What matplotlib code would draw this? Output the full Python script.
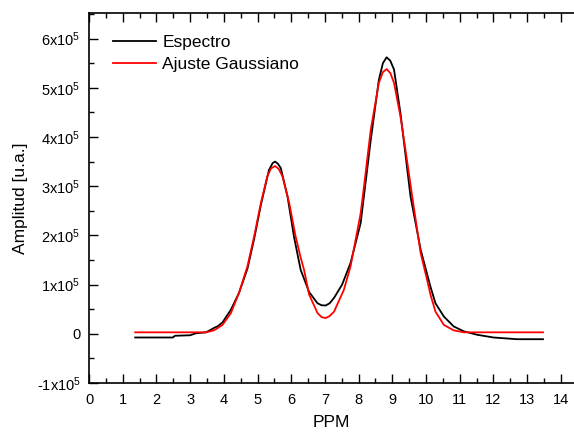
import matplotlib
matplotlib.use("Agg")
import matplotlib.pyplot as plt
from matplotlib.ticker import MultipleLocator, FixedLocator, FixedFormatter

plt.rcParams['font.family'] = ['Liberation Sans', 'DejaVu Sans']
plt.rcParams['mathtext.fontset'] = 'custom'
plt.rcParams['mathtext.rm'] = 'Liberation Sans'
plt.rcParams['mathtext.it'] = 'Liberation Sans'

# Spectrum (black)
spec_x = [1.37, 2.49, 2.55, 3.0, 3.17, 3.47, 3.61, 3.71, 3.81, 3.96, 4.21, 4.45, 4.70, 4.90,
          5.10, 5.34, 5.45, 5.52, 5.60, 5.69, 5.89, 6.08, 6.28, 6.53, 6.78, 6.90, 7.02, 7.14,
          7.27, 7.51, 7.76, 8.06, 8.36, 8.60, 8.72, 8.83, 8.94, 9.05, 9.24, 9.54, 9.84, 10.13,
          10.28, 10.53, 10.82, 11.12, 11.52, 12.0, 12.70, 13.47]
spec_y = [-0.075, -0.075, -0.04, -0.03, 0.01, 0.03, 0.08, 0.12, 0.15, 0.23, 0.49, 0.83, 1.32, 1.93,
          2.62, 3.33, 3.47, 3.50, 3.46, 3.37, 2.79, 1.98, 1.30, 0.85, 0.62, 0.58, 0.575, 0.62,
          0.73, 1.00, 1.44, 2.25, 3.94, 5.16, 5.50, 5.62, 5.55, 5.37, 4.49, 2.79, 1.71, 0.96,
          0.62, 0.35, 0.15, 0.05, -0.02, -0.075, -0.11, -0.11]

# Gaussian fit (red)
fit_x = [1.37, 2.0, 3.0, 3.47, 3.71, 3.96, 4.21, 4.45, 4.70, 4.90, 5.10, 5.29, 5.40, 5.52,
         5.63, 5.74, 5.94, 6.13, 6.28, 6.38, 6.53, 6.78, 6.90, 7.02, 7.14, 7.27, 7.56, 7.76,
         8.06, 8.16, 8.36, 8.60, 8.72, 8.83, 8.94, 9.05, 9.24, 9.39, 9.59, 9.84, 10.03, 10.13,
         10.28, 10.53, 10.82, 11.12, 12.0, 13.47]
fit_y = [0.03, 0.03, 0.03, 0.03, 0.07, 0.18, 0.42, 0.83, 1.37, 1.98, 2.66, 3.20, 3.36, 3.41,
         3.35, 3.20, 2.66, 1.98, 1.55, 1.30, 0.80, 0.42, 0.34, 0.32, 0.36, 0.45, 0.89, 1.37,
         2.45, 3.00, 4.15, 5.10, 5.32, 5.38, 5.30, 5.10, 4.42, 3.74, 2.79, 1.64, 1.10, 0.80,
         0.45, 0.18, 0.07, 0.03, 0.03, 0.03]

scale = 1e5
ytick_vals = [-1, 0, 1, 2, 3, 4, 5, 6]
ytick_labels = ['-1x10$^5$', '0', '1x10$^5$', '2x10$^5$', '3x10$^5$', '4x10$^5$', '5x10$^5$', '6x10$^5$']

fig = plt.figure(figsize=(5.74, 4.32), dpi=100)
ax = fig.add_axes([89/574, 49/432, 485/574, 370/432])

ax.plot(spec_x, [v * scale for v in spec_y], color='black', lw=1.3, label='Espectro')
ax.plot(fit_x, [v * scale for v in fit_y], color='red', lw=1.3, label='Ajuste Gaussiano')

ax.set_xlim(0, 14.39)
ax.set_ylim(-1e5, 6.52e5)
ax.xaxis.set_major_locator(MultipleLocator(1))
ax.xaxis.set_minor_locator(MultipleLocator(0.5))
ax.yaxis.set_major_locator(FixedLocator([v * scale for v in ytick_vals]))
ax.yaxis.set_major_formatter(FixedFormatter(ytick_labels))
ax.yaxis.set_minor_locator(MultipleLocator(0.5e5))

ax.tick_params(which='both', direction='in', top=True, right=False, labelsize=10.5, width=1)
ax.tick_params(which='major', length=6.5)
ax.tick_params(which='minor', length=3.5)
ax.tick_params(axis='x', which='major', pad=7)
ax.tick_params(axis='y', which='major', pad=6)
ax.spines['right'].set_visible(False)
for s in ['left', 'bottom', 'top']:
    ax.spines[s].set_linewidth(1.2)

ax.set_xlabel('PPM', fontsize=12.5, labelpad=6)
ax.set_ylabel('Amplitud [u.a.]', fontsize=12.5, labelpad=6)

ax.legend(loc='upper left', bbox_to_anchor=(0.049, 0.941), frameon=False, fontsize=12.5,
          handlelength=2.5, handletextpad=0.35, labelspacing=0.4, borderaxespad=0.0,
          borderpad=0.0)

fig.savefig('out.png', dpi=100)
